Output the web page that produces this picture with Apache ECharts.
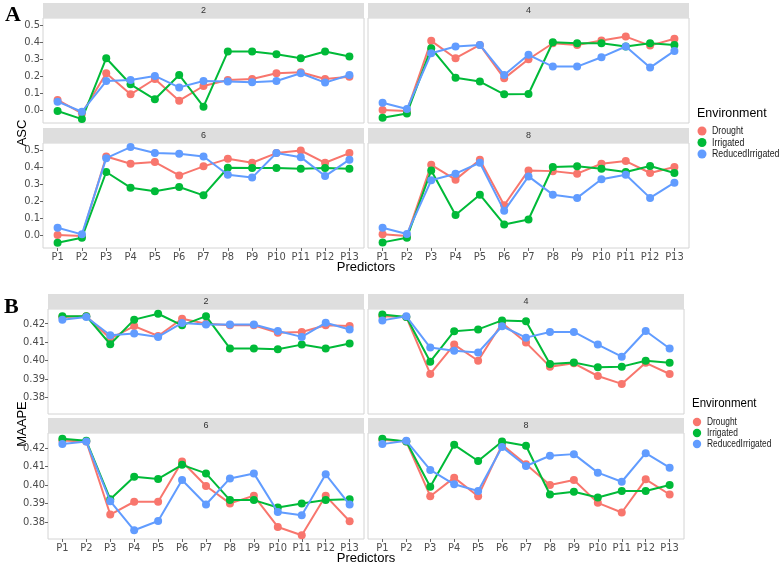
<!DOCTYPE html>
<html><head><meta charset="utf-8">
<script src="https://cdn.jsdelivr.net/npm/echarts@6/dist/echarts.min.js"></script>
<style>html,body{margin:0;padding:0;background:#fff}#c{width:780px;height:566px}</style>
</head><body><div id="c"></div>
<script>
const predictors = ['P1','P2','P3','P4','P5','P6','P7','P8','P9','P10','P11','P12','P13'];
const environments = ['Drought','Irrigated','ReducedIrrigated'];
const facetLabels = ['2','4','6','8'];
const ascTicks = [0, 0.1, 0.2, 0.3, 0.4, 0.5];
const maapeTicks = [0.38, 0.39, 0.40, 0.41, 0.42];

// ASC (panel A)
const asc2Drought   = [0.059,-0.020,0.216,0.092,0.182,0.055,0.141,0.176,0.182,0.216,0.222,0.182,0.196];
const asc2Irrigated = [-0.006,-0.053,0.304,0.151,0.063,0.206,0.020,0.343,0.343,0.327,0.304,0.343,0.314];
const asc2Reduced   = [0.049,-0.010,0.170,0.176,0.200,0.133,0.170,0.167,0.163,0.170,0.216,0.161,0.206];
const asc4Drought   = [0.000,-0.006,0.406,0.304,0.382,0.186,0.298,0.392,0.382,0.408,0.431,0.378,0.418];
const asc4Irrigated = [-0.045,-0.020,0.363,0.190,0.167,0.092,0.094,0.398,0.392,0.392,0.373,0.392,0.382];
const asc4Reduced   = [0.043,0.006,0.333,0.373,0.382,0.206,0.324,0.255,0.255,0.310,0.373,0.249,0.347];
const asc6Drought   = [0.000,-0.006,0.461,0.418,0.428,0.350,0.403,0.447,0.424,0.481,0.496,0.424,0.481];
const asc6Irrigated = [-0.045,-0.016,0.370,0.278,0.257,0.282,0.233,0.395,0.393,0.393,0.389,0.393,0.389];
const asc6Reduced   = [0.043,0.004,0.451,0.516,0.481,0.477,0.461,0.354,0.337,0.481,0.457,0.346,0.442];
const asc8Drought   = [0.004,-0.006,0.412,0.325,0.442,0.175,0.379,0.375,0.360,0.418,0.434,0.364,0.399];
const asc8Irrigated = [-0.043,-0.016,0.379,0.117,0.237,0.062,0.091,0.399,0.403,0.389,0.370,0.405,0.364];
const asc8Reduced   = [0.043,0.006,0.321,0.360,0.424,0.142,0.344,0.237,0.218,0.327,0.354,0.218,0.307];

// MAAPE (panel B)
const maape2Drought   = [0.4236,0.4240,0.4119,0.4187,0.4133,0.4227,0.4200,0.4191,0.4191,0.4151,0.4155,0.4191,0.4187];
const maape2Irrigated = [0.4241,0.4241,0.4088,0.4222,0.4254,0.4191,0.4241,0.4065,0.4065,0.4061,0.4086,0.4065,0.4092];
const maape2Reduced   = [0.4222,0.4236,0.4137,0.4146,0.4128,0.4204,0.4196,0.4195,0.4196,0.4160,0.4128,0.4205,0.4168];
const maape4Drought   = [0.4241,0.4236,0.3926,0.4086,0.3998,0.4204,0.4097,0.3966,0.3984,0.3915,0.3872,0.3987,0.3926];
const maape4Irrigated = [0.4250,0.4236,0.3993,0.4159,0.4169,0.4218,0.4213,0.3980,0.3989,0.3962,0.3966,0.3998,0.3987];
const maape4Reduced   = [0.4218,0.4240,0.4070,0.4052,0.4043,0.4186,0.4124,0.4155,0.4155,0.4086,0.4020,0.4160,0.4065];
const maape6Drought   = [0.4240,0.4234,0.3840,0.3909,0.3909,0.4126,0.3994,0.3900,0.3941,0.3773,0.3728,0.3941,0.3804];
const maape6Irrigated = [0.4249,0.4238,0.3923,0.4044,0.4032,0.4108,0.4062,0.3918,0.3918,0.3878,0.3900,0.3918,0.3923];
const maape6Reduced   = [0.4220,0.4234,0.3912,0.3755,0.3805,0.4026,0.3894,0.4035,0.4062,0.3854,0.3836,0.4057,0.3894];
const maape8Drought   = [0.4243,0.4234,0.3939,0.4039,0.3939,0.4216,0.4111,0.3999,0.4026,0.3903,0.3851,0.4030,0.3948];
const maape8Irrigated = [0.4249,0.4234,0.3990,0.4216,0.4129,0.4234,0.4211,0.3948,0.3963,0.3932,0.3967,0.3967,0.3999];
const maape8Reduced   = [0.4220,0.4238,0.4081,0.4003,0.3967,0.4204,0.4102,0.4157,0.4166,0.4066,0.4017,0.4171,0.4093];

const facetData = [
  [asc2Drought, asc2Irrigated, asc2Reduced],
  [asc4Drought, asc4Irrigated, asc4Reduced],
  [asc6Drought, asc6Irrigated, asc6Reduced],
  [asc8Drought, asc8Irrigated, asc8Reduced],
  [maape2Drought, maape2Irrigated, maape2Reduced],
  [maape4Drought, maape4Irrigated, maape4Reduced],
  [maape6Drought, maape6Irrigated, maape6Reduced],
  [maape8Drought, maape8Irrigated, maape8Reduced]
];

const colors = ['#F8766D', '#00BA38', '#619CFF'];
const FONT = '"Liberation Sans Narrow", "DejaVu Sans Condensed", "Roboto Condensed", sans-serif';
const FONT2 = '"Liberation Sans", Arial, sans-serif';

const layout = [
  {left:43, top:18, width:321, height:105},
  {left:368, top:18, width:321, height:105},
  {left:43, top:143, width:321, height:105},
  {left:368, top:143, width:321, height:105},
  {left:48, top:309, width:316, height:105},
  {left:368, top:309, width:316, height:105},
  {left:48, top:433, width:316, height:106},
  {left:368, top:433, width:316, height:106}
];

const grids = [], xAxes = [], yAxes = [], series = [], graphics = [];
layout.forEach((g, i) => {
  const isA = i < 4;
  const bottomRow = (i % 4) >= 2;
  const leftCol = (i % 2) === 0;
  grids.push({left:g.left, top:g.top, width:g.width, height:g.height, show:true,
    backgroundColor:'#ffffff', borderColor:'#d4d4d4', borderWidth:1});
  xAxes.push({type:'value', gridIndex:i, min:0.4, max:13.6, position:'bottom',
    axisLine:{show:false, onZero:false}, splitLine:{show:false},
    axisTick:{show:bottomRow, length:3, lineStyle:{color:'#666'}, customValues: predictors.map((p,k)=>k+1)},
    axisLabel:{show:bottomRow, customValues: predictors.map((p,k)=>k+1), margin:4,
      formatter: v => predictors[Math.round(v)-1] || '', color:'#4d4d4d', fontSize:11, fontFamily:FONT}
  });
  const ticks = isA ? ascTicks : maapeTicks;
  yAxes.push({type:'value', gridIndex:i, position:'left',
    min: isA ? -0.076 : 0.3708, max: isA ? 0.54 : 0.428,
    axisLine:{show:false, onZero:false}, splitLine:{show:false},
    axisTick:{show:leftCol, length:3, lineStyle:{color:'#666'}, customValues: ticks},
    axisLabel:{show:leftCol, customValues: ticks, margin:3,
      formatter: v => v.toFixed(isA ? 1 : 2), color:'#4d4d4d', fontSize:11, fontFamily:FONT}
  });
  facetData[i].forEach((arr, s) => {
    series.push({type:'line', name:environments[s], xAxisIndex:i, yAxisIndex:i,
      data: arr.map((v,k)=>[k+1, v]),
      symbol:'circle', symbolSize:8, showSymbol:true,
      lineStyle:{width:2, color:colors[s]}, itemStyle:{color:colors[s]},
      emphasis:{disabled:true}, animation:false, z: 2+s});
  });
  graphics.push({type:'rect', shape:{x:g.left, y:g.top-15, width:g.width, height:15},
    style:{fill:'#dedede'}, silent:true});
  graphics.push({type:'text', x:g.left+g.width/2, y:g.top-7.5,
    style:{text:facetLabels[i%4], fill:'#333', font:'9px '+FONT2, textAlign:'center', textVerticalAlign:'middle'}});
});

graphics.push({type:'text', x:5, y:4, style:{text:'A', fill:'#000', font:'bold 22px "Liberation Serif", "DejaVu Serif", serif'}});
graphics.push({type:'text', x:4, y:296, style:{text:'B', fill:'#000', font:'bold 22px "Liberation Serif", "DejaVu Serif", serif'}});
graphics.push({type:'text', x:22, y:133, rotation:Math.PI/2,
  style:{text:'ASC', fill:'#000', font:'13px '+FONT2, textAlign:'center', textVerticalAlign:'middle'}});
graphics.push({type:'text', x:22, y:424, rotation:Math.PI/2,
  style:{text:'MAAPE', fill:'#000', font:'13px '+FONT2, textAlign:'center', textVerticalAlign:'middle'}});
graphics.push({type:'text', x:366, y:267,
  style:{text:'Predictors', fill:'#000', font:'13px '+FONT2, textAlign:'center', textVerticalAlign:'middle'}});
graphics.push({type:'text', x:366, y:558,
  style:{text:'Predictors', fill:'#000', font:'13px '+FONT2, textAlign:'center', textVerticalAlign:'middle'}});

// Legends (drawn as graphics so the condensed text fits like the reference)
function addLegend(titleX, titleY, titleSize, cx, y0, step, r, textX, fontSize) {
  graphics.push({type:'text', x:titleX, y:titleY, scaleX:0.92,
    style:{text:'Environment', fill:'#000', font:titleSize+'px '+FONT2, textVerticalAlign:'middle'}});
  environments.forEach((name, s) => {
    graphics.push({type:'circle', shape:{cx:cx, cy:y0+s*step, r:r}, style:{fill:colors[s]}, silent:true});
    graphics.push({type:'text', x:textX, y:y0+s*step, scaleX:0.8,
      style:{text:name, fill:'#1a1a1a', font:fontSize+'px '+FONT2, textVerticalAlign:'middle'}});
  });
}
addLegend(697, 113, 13.5, 702, 131, 11.5, 4.5, 712, 11);
addLegend(692, 404, 12.5, 697, 422, 11, 4.2, 707, 10.5);

const chart = echarts.init(document.getElementById('c'), null, {renderer:'canvas'});
chart.setOption({
  animation:false,
  backgroundColor:'#ffffff',
  grid: grids, xAxis: xAxes, yAxis: yAxes, series: series,
  graphic: graphics
});
</script></body></html>
